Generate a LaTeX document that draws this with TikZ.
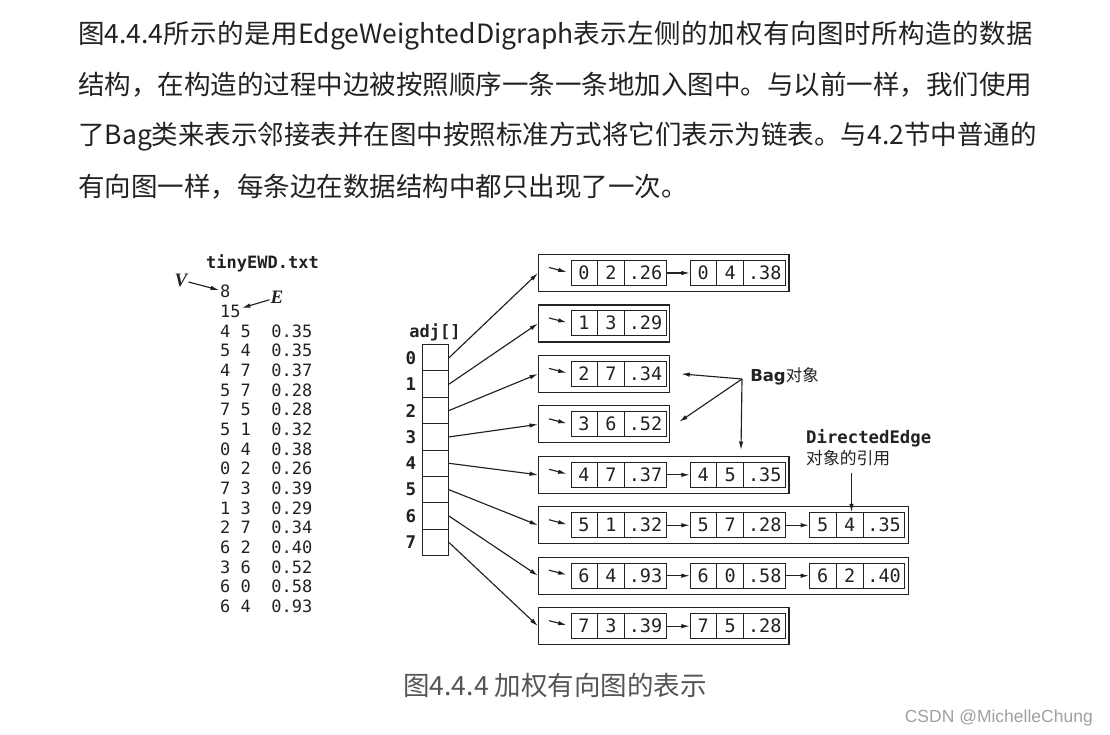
\documentclass[tikz,border=0pt]{standalone}
\usepackage{fontspec}
\setmainfont{Noto Sans CJK SC}
\setmonofont{DejaVu Sans Mono}
\newfontfamily\bagfont{DejaVu Sans}
\newfontfamily\markfont{Liberation Sans}
\newfontfamily\varfont{Liberation Serif}
\usepackage{tikz}
\usetikzlibrary{positioning, arrows.meta, shapes.multipart}
\definecolor{ink}{HTML}{222222}
\definecolor{capgray}{HTML}{555555}
\definecolor{markgray}{HTML}{A0A0A0}

\newcommand{\cellnum}[1]{\makebox[26pt]{\rule[-6pt]{0pt}{25pt}#1}}
\newcommand{\cellwt}[1]{\makebox[41pt]{\rule[-6pt]{0pt}{25pt}#1}}
\newcommand{\wide}[1]{{\addfontfeature{LetterSpace=2.2}#1}}

\tikzset{
    ptr/.style={-{Latex[length=8.5pt,width=4.5pt]}, line width=1.15pt, draw=ink},
    bag/.style={draw=ink, line width=1.2pt, minimum height=37pt, inner sep=0pt, anchor=west},
    edgebox/.style={draw=ink, line width=1pt, rectangle split, rectangle split horizontal,
        rectangle split parts=3, inner sep=0pt, anchor=west, text=ink,
        font=\ttfamily\fontsize{18.5}{18.5}\selectfont},
    adjcell/.style={draw=ink, line width=1.1pt, minimum width=26pt, minimum height=26.4pt, inner sep=0pt},
    idx/.style={font=\ttfamily\bfseries\fontsize{17.5}{17.5}\selectfont, text=ink, inner sep=1pt},
    fileline/.style={anchor=west, font=\ttfamily\fontsize{17}{17}\selectfont, text=ink, inner sep=1pt},
    varlbl/.style={text=ink, inner sep=1pt, font=\varfont\bfseries\itshape\fontsize{19}{19}\selectfont},
    para/.style={anchor=base west, font=\fontsize{26.5}{30}\selectfont, text=ink, inner sep=0pt}
}

\begin{document}
\begin{tikzpicture}[x=1pt, y=-1pt]
    \def\rowgap{50.45}
    \def\edgegap{119.3}

    % canvas
    \fill[white] (0,0) rectangle (1110,734);
    \useasboundingbox (0,0) rectangle (1110,734);

    % paragraph above the figure
    \node[para] (par1) at (78,43.3) {\wide{图}4.4.4\wide{所示的是用}EdgeWeightedDigraph\wide{表示左侧的加权有向图时所构造的数据}};
    \node[para] (par2) at (78,94.3) {结构，在构造的过程中边被按照顺序一条一条地加入图中。与以前一样，我们使用};
    \node[para] (par3) at (78,144.8) {了Bag类来表示邻接表并在图中按照标准方式将它们表示为链表。与4.2节中普通的};
    \node[para] (par4) at (78,196.3) {有向图一样，每条边在数据结构中都只出现了一次。};

    % input file
    \node[anchor=base, text=ink, font=\ttfamily\bfseries\fontsize{17}{17}\selectfont] (fname) at (262.5,268) {tinyEWD.txt};
    \foreach \txt [count=\i] in {8, 15, 4 5~~0.35, 5 4~~0.35, 4 7~~0.37, 5 7~~0.28, 7 5~~0.28,
        5 1~~0.32, 0 4~~0.38, 0 2~~0.26, 7 3~~0.39, 1 3~~0.29, 2 7~~0.34, 6 2~~0.40,
        3 6~~0.52, 6 0~~0.58, 6 4~~0.93}
    {
        \node[fileline] (ln\i) at (219, 291.7+19.66*\i-19.66) {\txt};
    }
    \node[varlbl] (vlbl) at (181,280) {V};
    \node[varlbl] (elbl) at (277,297.5) {E};
    \draw[ptr] (vlbl) -- (ln1);
    \draw[ptr] (elbl) -- (ln2);

    % adjacency array and bags
    \node[anchor=base, text=ink, font=\ttfamily\bfseries\fontsize{17}{17}\selectfont] (adjlbl) at (435,337) {adj[]};
    \foreach \r/\n/\edges in {
        0/2/{0/2/.26, 0/4/.38},
        1/1/{1/3/.29},
        2/1/{2/7/.34},
        3/1/{3/6/.52},
        4/2/{4/7/.37, 4/5/.35},
        5/3/{5/1/.32, 5/7/.28, 5/4/.35},
        6/3/{6/4/.93, 6/0/.58, 6/2/.40},
        7/2/{7/3/.39, 7/5/.28}}
    {
        \pgfmathsetmacro\ypos{273+\rowgap*\r}
        \pgfmathsetmacro\bagw{131+\edgegap*(\n-1)}
        \node[bag, minimum width=\bagw pt] (bag\r) at (538, \ypos) {};
        \foreach \v/\w/\wt [count=\k] in \edges
        {
            \node[edgebox] (e\r\k) at (570.5+\edgegap*\k-\edgegap, \ypos)
                {\cellnum{\v}\nodepart{two}\cellnum{\w}\nodepart{three}\cellwt{\wt}};
            \ifnum\k>1
                \pgfmathtruncatemacro\kprev{\k-1}
                \draw[ptr] (e\r\kprev) -- (e\r\k);
            \fi
        }
        \coordinate (head\r) at ([xshift=-21.5pt, yshift=5.5pt]e\r1.west);
        \draw[ptr, shorten >=4pt] (head\r) -- (e\r1.west);

        \node[adjcell] (adj\r) at (435.5, 357.7+26.4*\r) {};
        \node[idx] (idx\r) at (411, 357.7+26.4*\r) {\r};
        \draw[ptr] (adj\r.east) -- (bag\r.west);
    }

    % Bag label
    \node[text=ink, inner sep=1pt, font=\fontsize{16.5}{16.5}\selectfont] (baglbl) at (784.5,376) {{\bagfont\bfseries Bag}对象};
    \coordinate (bagfrom) at (742,379);
    \coordinate (bagtip) at (741,450);
    \draw[ptr] (bagfrom) -- ([xshift=11pt]bag2.east);
    \draw[ptr] (bagfrom) -- ([xshift=9pt, yshift=2.5pt]bag3.east);
    \draw[ptr] (bagfrom) -- (bagtip);

    % DirectedEdge label
    \node[anchor=base west, text=ink, inner sep=0pt, font=\ttfamily\bfseries\fontsize{17.3}{17.3}\selectfont] (delbl) at (806,443.5) {DirectedEdge};
    \node[anchor=base west, text=ink, inner sep=0pt, font=\fontsize{16.8}{17}\selectfont] (delbl2) at (806,464.4) {对象的引用};
    \coordinate (defrom) at (851.5,473);
    \draw[ptr] (defrom) -- (defrom |- e53.north);

    % caption and mark
    \node[anchor=base, text=capgray, inner sep=0pt, font=\fontsize{26.5}{26.5}\selectfont] (caption) at (555,695) {图4.4.4 加权有向图的表示};
    \node[anchor=base east, text=markgray, inner sep=0pt, font=\markfont\fontsize{17.5}{17.5}\selectfont] (mark) at (1093,722) {CSDN @MichelleChung};
\end{tikzpicture}
\end{document}
